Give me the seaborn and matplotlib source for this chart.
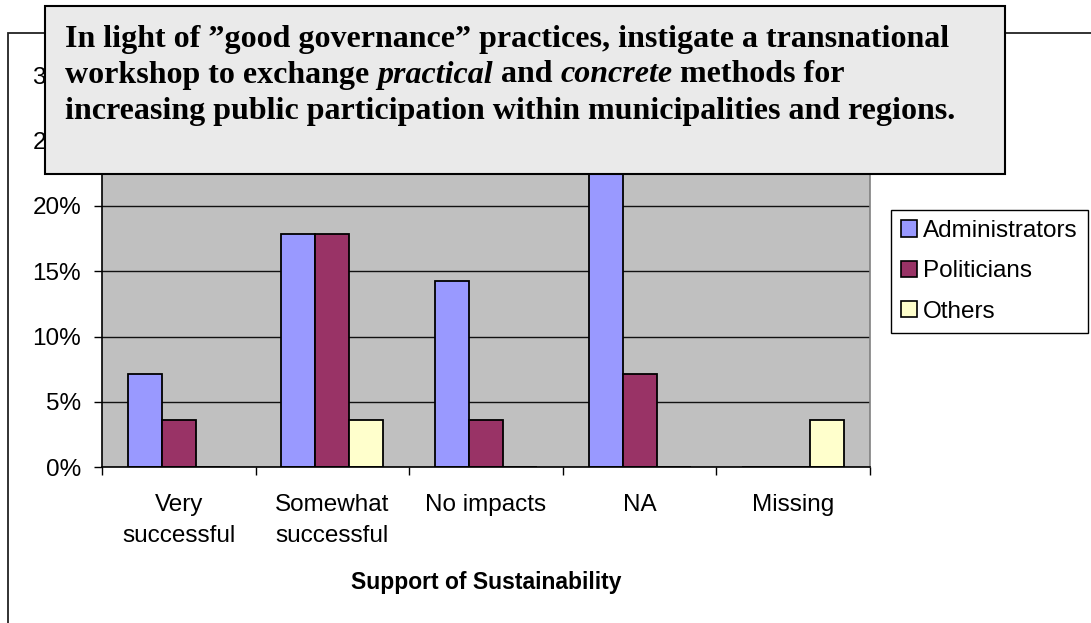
import numpy as np
import pandas as pd
import matplotlib
matplotlib.use("Agg")
import matplotlib.pyplot as plt
import seaborn as sns
from matplotlib.patches import Rectangle, Patch
from matplotlib.text import Annotation
from matplotlib.ticker import PercentFormatter

# ---- data (share of respondents, %) ----
categories = ["Very\nsuccessful", "Somewhat\nsuccessful", "No impacts", "NA", "Missing"]
groups = ["Administrators", "Politicians", "Others"]
administrators = [7.14, 17.86, 14.29, 25.0, 0.0]
politicians = [3.57, 17.86, 3.57, 7.14, 0.0]
others = [0.0, 3.57, 0.0, 0.0, 3.57]
y_ticks = [0, 5, 10, 15, 20, 25, 30]
palette = ["#9999FF", "#993366", "#FFFFCC"]

x_title = "Support of Sustainability"
note_line1 = "In light of \u201dgood governance\u201d practices, instigate a transnational"
note_line2 = [("workshop to exchange", "normal"), ("practical", "italic"),
              ("and", "normal"), ("concrete", "italic"), ("methods for", "normal")]
note_line3 = "increasing public participation within municipalities and regions."

df = pd.DataFrame({
    "category": categories * len(groups),
    "group": np.repeat(groups, len(categories)),
    "share": administrators + politicians + others,
})

W, H = 1091, 623
sns.set_theme(style="white")
plt.rcParams["font.family"] = ["Liberation Sans", "DejaVu Sans"]
plt.rcParams.update({
    "text.color": "black",
    "axes.labelcolor": "black",
    "xtick.color": "black",
    "ytick.color": "black",
})

fig = plt.figure(figsize=(W / 100, H / 100), dpi=100)
fig.patch.set_facecolor("white")


def fx(px):
    return px / W


def fy(py):
    return 1 - py / H


# outer chart-area frame (runs off the bottom/right of the canvas)
frame = Rectangle((fx(8), fy(700)), fx(1200 - 8), (700 - 33) / H,
                  transform=fig.transFigure, fill=False, edgecolor="#222222",
                  lw=1.3, clip_on=False, zorder=-1)
fig.add_artist(frame)

# plot area
ax = fig.add_axes([fx(102), fy(467), fx(870 - 102), (467 - 75.5) / H])
ax.set_facecolor("#C0C0C0")
sns.barplot(data=df, x="category", y="share", hue="group", order=categories,
            hue_order=groups, palette=palette, saturation=1, width=0.664,
            edgecolor="black", linewidth=1.3, errorbar=None, ax=ax, legend=False)

ax.set_xlim(-0.5, len(categories) - 0.5)
ax.set_ylim(y_ticks[0], y_ticks[-1])
ax.set_yticks(y_ticks)
ax.yaxis.set_major_formatter(PercentFormatter(xmax=100, decimals=0))
ax.yaxis.grid(True, color="#111111", lw=1.0)
ax.xaxis.grid(False)
ax.set_axisbelow(True)

for side in ["left", "bottom"]:
    ax.spines[side].set_color("black")
    ax.spines[side].set_linewidth(1.2)
for side in ["right", "top"]:
    ax.spines[side].set_color("#808080")
    ax.spines[side].set_linewidth(1.2)

ax.set_xticks(range(len(categories)))
ax.set_xticklabels(categories, fontsize=17.5, linespacing=1.55, va="top")
ax.set_xticks(np.arange(-0.5, len(categories), 1.0), minor=True)
ax.tick_params(axis="x", which="major", length=0, pad=19.5, colors="black")
ax.tick_params(axis="x", which="minor", length=6, width=1, direction="out",
               bottom=True, color="black")
ax.tick_params(axis="y", which="major", length=6, width=1, direction="out",
               left=True, color="black", labelsize=17.5, pad=9, labelcolor="black")

ax.set_xlabel(x_title, fontsize=16.5, fontweight="bold", labelpad=17)
ax.set_ylabel("")

# legend
handles = [Patch(facecolor=c, edgecolor="black", lw=1.2) for c in palette]
leg = ax.legend(handles, groups, loc="upper left",
                bbox_to_anchor=(fx(891), fy(210)), bbox_transform=fig.transFigure,
                frameon=True, fancybox=False, edgecolor="black", framealpha=1,
                fontsize=17.5, handlelength=0.66, handleheight=0.66,
                handletextpad=0.25, labelspacing=0.75, borderpad=0.42,
                borderaxespad=0)
leg.get_frame().set_linewidth(1.0)

# annotation box laid over the top of the chart
box = Rectangle((fx(45), fy(174)), fx(1005 - 45), (174 - 6) / H,
                transform=fig.transFigure, facecolor="#EAEAEA",
                edgecolor="black", lw=1.5, zorder=5)
fig.add_artist(box)

serif = ["Liberation Serif", "DejaVu Serif"]
fs = 23
space_pt = 0.25 * fs
x0 = fx(65)

fig.text(x0, fy(46.5), note_line1, family=serif, fontsize=fs,
         fontweight="bold", va="baseline", ha="left", zorder=6)

prev = fig.text(x0, fy(82.5), note_line2[0][0], family=serif, fontsize=fs,
                fontweight="bold", va="baseline", ha="left", zorder=6)
for piece, style in note_line2[1:]:
    ann = Annotation(piece, xy=(1, fy(82.5)), xycoords=(prev, "figure fraction"),
                     xytext=(space_pt, 0), textcoords="offset points",
                     family=serif, fontsize=fs, fontweight="bold", style=style,
                     va="baseline", ha="left", zorder=6)
    fig.add_artist(ann)
    prev = ann

fig.text(x0, fy(118.5), note_line3, family=serif, fontsize=fs,
         fontweight="bold", va="baseline", ha="left", zorder=6)

fig.savefig("out.png", dpi=100)
